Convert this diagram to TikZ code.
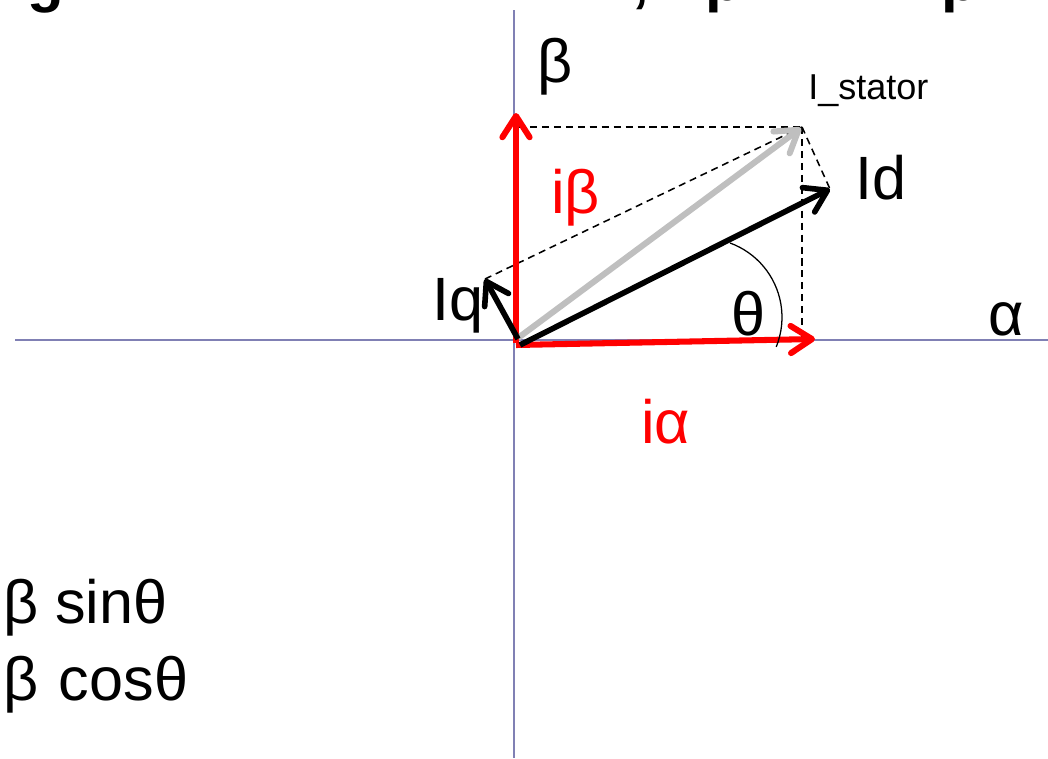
\documentclass[tikz,border=0pt]{standalone}
\usepackage{fontspec}
\setmainfont{Liberation Sans}
\usetikzlibrary{arrows.meta}
\definecolor{axisgray}{HTML}{8080B4}
\definecolor{vecred}{HTML}{FF0000}
\definecolor{vecgray}{HTML}{BFBFBF}

\begin{document}
\begin{tikzpicture}[
  x=0.025cm, y=-0.025cm,
  >={Straight Barb[length=5.3mm, width=6.8mm, line cap=round, line join=round]},
  axis/.style={draw=axisgray, line width=1.3pt},
  proj/.style={draw=black, line width=1.1pt, dash pattern=on 5pt off 3.5pt},
  redvec/.style={->, draw=vecred, line width=4.3pt},
  grayvec/.style={->, draw=vecgray, line width=4.3pt},
  blackvec/.style={->, draw=black, line width=4pt},
  lbl/.style={font=\fontsize{43.5}{48}\selectfont, inner sep=0pt},
  smalllbl/.style={font=\fontsize{25.6}{30}\selectfont, inner sep=0pt},
  titlefrag/.style={font=\fontsize{42.7}{48}\selectfont\bfseries, inner sep=0pt, anchor=base west},
]
\useasboundingbox (0,0) rectangle (1048,758);
\clip (0,0) rectangle (1048,758);

% ---- Title (cut off at the top edge) ----
\node[titlefrag] (tg)  at (27,0)  {g};
\node[titlefrag] (tc)  at (632,0) {,};
\node[titlefrag] (tp1) at (705,0) {p};
\node[titlefrag] (tp2) at (941,0) {p};

% ---- Axes ----
\coordinate (axL) at (15,340);
\coordinate (axR) at (1048,340);
\coordinate (axT) at (514,10);
\coordinate (axB) at (514,758);
\draw[axis] (axL) -- (axR);
\draw[axis] (axT) -- (axB);

% ---- Vector end points ----
\coordinate (O)     at (516,343);
\coordinate (ialT)  at (815,339);
\coordinate (ibeT)  at (516,113);
\coordinate (statT) at (801,128);
\coordinate (idT)   at (830,189);
\coordinate (iqT)   at (485,279);
\coordinate (cnr)   at (802,127);
\coordinate (foot)  at (802,339);
\coordinate (ibeC)  at (518,127);

% ---- Projection lines ----
\draw[proj] (ibeC) -- (cnr);
\draw[proj] (cnr) -- (foot);
\draw[proj] (cnr) -- (idT);
\draw[proj] (iqT) -- (cnr);

% ---- Vectors ----
\draw[redvec] (516,345) -- (ialT);
\draw[redvec] (O) -- (ibeT);
\draw[grayvec] (518,338) -- (statT);
\draw[blackvec] (520,345) -- (idT);
\draw[blackvec] (518,339) -- (iqT);

% ---- Angle theta ----
\coordinate (arcS) at (730,243);
\draw[black, line width=0.9pt] (arcS) arc[start angle=70, end angle=-22, radius=1.975cm];

% ---- Labels ----
\node[lbl, anchor=base west] (lbeta)  at (537,82)  {β};
\node[lbl, anchor=base west] (lalpha) at (988,335) {α};
\node[smalllbl, anchor=base west] (lstat) at (808,99) {I\_stator};
\node[lbl, anchor=base west] (lid)    at (855,199) {Id};
\node[lbl, anchor=base west] (liq)    at (432,320) {Iq};
\node[lbl, anchor=base west, text=vecred] (libe) at (551,213) {iβ};
\node[lbl, anchor=base west, text=vecred] (lial) at (641,443) {iα};
\node[lbl, anchor=base west] (lth)    at (731,335) {θ};
\node[lbl, anchor=base west] (lsin)   at (3,623)   {β sinθ};
\node[lbl, anchor=base west] (lcos)   at (3,700)   {β\,\,cosθ};
\end{tikzpicture}
\end{document}
